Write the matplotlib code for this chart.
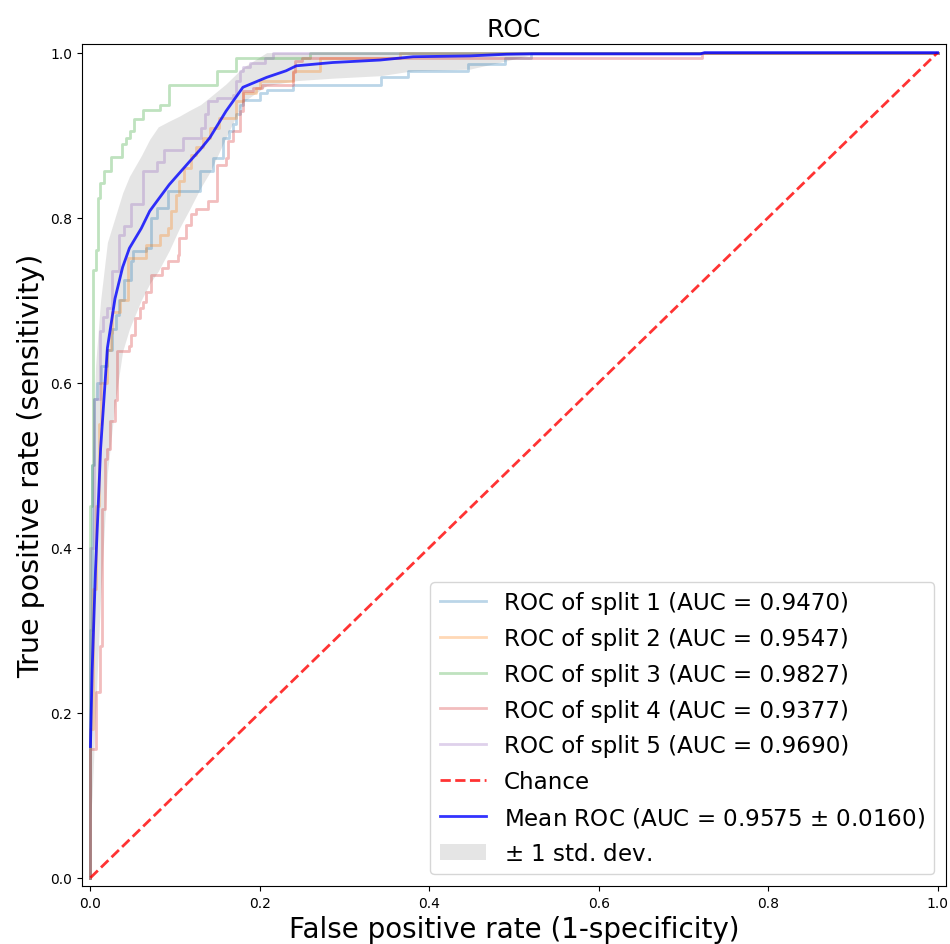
import matplotlib
matplotlib.use("Agg")
import matplotlib.pyplot as plt

# per-split ROC points (fpr, tpr)
fpr1 = [0, 0, 0.002, 0.004, 0.008, 0.012, 0.020, 0.026, 0.030, 0.034, 0.040, 0.048, 0.050, 0.066, 0.072, 0.078,
        0.091, 0.129, 0.145, 0.156, 0.164, 0.168, 0.172, 0.176, 0.180, 0.200, 0.208, 0.239, 0.343, 0.375, 0.446,
        0.489, 0.520, 1.0]
tpr1 = [0, 0.30, 0.50, 0.58, 0.60, 0.62, 0.64, 0.665, 0.682, 0.70, 0.725, 0.747, 0.759, 0.763, 0.800, 0.812,
        0.832, 0.856, 0.872, 0.897, 0.905, 0.913, 0.925, 0.937, 0.943, 0.951, 0.955, 0.961, 0.970, 0.978, 0.986,
        0.994, 1.0, 1.0]

fpr2 = [0, 0, 0.003, 0.006, 0.010, 0.013, 0.020, 0.024, 0.026, 0.035, 0.044, 0.066, 0.082, 0.091, 0.095, 0.101,
        0.105, 0.111, 0.119, 0.125, 0.133, 0.141, 0.152, 0.172, 0.180, 0.196, 0.200, 0.239, 0.271, 0.365, 1.0]
tpr2 = [0, 0.18, 0.35, 0.45, 0.55, 0.60, 0.64, 0.66, 0.686, 0.70, 0.751, 0.767, 0.779, 0.787, 0.808, 0.828,
        0.844, 0.860, 0.876, 0.885, 0.897, 0.909, 0.921, 0.941, 0.951, 0.957, 0.966, 0.978, 0.993, 1.0, 1.0]

fpr3 = [0, 0, 0.002, 0.003, 0.006, 0.0087, 0.0114, 0.0154, 0.0244, 0.0374, 0.042, 0.047, 0.051, 0.062, 0.082,
        0.093, 0.149, 0.172, 0.259, 1.0]
tpr3 = [0, 0.45, 0.50, 0.737, 0.761, 0.824, 0.842, 0.856, 0.873, 0.889, 0.897, 0.905, 0.919, 0.930, 0.937,
        0.961, 0.978, 0.993, 1.0, 1.0]

fpr4 = [0, 0, 0.007, 0.011, 0.014, 0.017, 0.020, 0.023, 0.029, 0.031, 0.045, 0.048, 0.052, 0.058, 0.062, 0.066,
        0.072, 0.084, 0.091, 0.103, 0.105, 0.113, 0.119, 0.125, 0.139, 0.149, 0.160, 0.162, 0.168, 0.176, 0.180,
        0.192, 0.202, 0.239, 0.241, 0.250, 0.722, 1.0]
tpr4 = [0, 0.156, 0.225, 0.281, 0.447, 0.508, 0.520, 0.554, 0.579, 0.638, 0.645, 0.658, 0.678, 0.690, 0.698, 0.710,
        0.731, 0.739, 0.747, 0.755, 0.775, 0.791, 0.804, 0.810, 0.820, 0.864, 0.872, 0.893, 0.905, 0.929, 0.953,
        0.957, 0.961, 0.977, 0.990, 0.994, 1.0, 1.0]

fpr5 = [0, 0, 0.004, 0.011, 0.015, 0.020, 0.026, 0.034, 0.040, 0.048, 0.062, 0.078, 0.087, 0.109, 0.131, 0.135,
        0.139, 0.149, 0.168, 0.172, 0.176, 0.180, 0.188, 0.206, 0.216, 1.0]
tpr5 = [0, 0.40, 0.58, 0.662, 0.68, 0.69, 0.735, 0.779, 0.79, 0.816, 0.856, 0.868, 0.882, 0.897, 0.909, 0.925,
        0.941, 0.945, 0.949, 0.966, 0.978, 0.982, 0.988, 0.994, 1.0, 1.0]

aucs = [0.9470, 0.9547, 0.9827, 0.9377, 0.9690]
mean_auc = 0.9575
std_auc = 0.0160

# mean curve and +-1 std band
mean_fpr = [0, 0.002, 0.006, 0.012, 0.020, 0.029, 0.038, 0.046, 0.060, 0.070, 0.080, 0.093, 0.105, 0.117, 0.130,
            0.141, 0.160, 0.180, 0.208, 0.231, 0.243, 0.286, 0.342, 0.381, 0.448, 0.491, 0.519, 0.720, 0.725, 1.0]
mean_tpr = [0.159, 0.25, 0.374, 0.52, 0.642, 0.702, 0.74, 0.763, 0.787, 0.808, 0.822, 0.840, 0.854, 0.868, 0.883,
            0.897, 0.929, 0.958, 0.970, 0.978, 0.984, 0.988, 0.991, 0.995, 0.996, 0.998, 0.9985, 0.9985, 1.0, 1.0]
tpr_upper = [0.25, 0.48, 0.62, 0.70, 0.77, 0.80, 0.83, 0.85, 0.875, 0.895, 0.910, 0.917, 0.923, 0.930, 0.937,
             0.946, 0.962, 0.982, 1.0, 1.0, 1.0, 1.0, 1.0, 1.0, 1.0, 1.0, 1.0, 1.0, 1.0, 1.0]
tpr_lower = [0.07, 0.10, 0.20, 0.34, 0.49, 0.575, 0.638, 0.665, 0.700, 0.720, 0.735, 0.760, 0.787, 0.810, 0.836,
             0.855, 0.897, 0.94, 0.960, 0.964, 0.966, 0.969, 0.972, 0.978, 0.98, 0.99, 0.997, 0.997, 1.0, 1.0]

splits = [(fpr1, tpr1), (fpr2, tpr2), (fpr3, tpr3), (fpr4, tpr4), (fpr5, tpr5)]

fig = plt.figure(figsize=(9.5, 9.45), dpi=100)
ax = fig.add_axes([0.0863, 0.0614, 0.9095, 0.8906])

for i, (f, t) in enumerate(splits):
    ax.plot(f, t, lw=2, alpha=0.3, color='C%d' % i, drawstyle='steps-post',
            label='ROC of split %d (AUC = %0.4f)' % (i + 1, aucs[i]))

ax.plot([0, 1], [0, 1], linestyle='--', lw=2, color='r', alpha=.8, label='Chance')
ax.plot(mean_fpr, mean_tpr, color='b', lw=2, alpha=.8,
        label='Mean ROC (AUC = %0.4f $\\pm$ %0.4f)' % (mean_auc, std_auc))
ax.fill_between(mean_fpr, tpr_lower, tpr_upper, color='grey', alpha=.2, lw=0,
                label='$\\pm$ 1 std. dev.')

ax.set_xlim(-0.01, 1.01)
ax.set_ylim(-0.01, 1.01)
ax.tick_params(labelsize=10)
ax.set_xlabel('False positive rate (1-specificity)', fontsize=20)
ax.set_ylabel('True positive rate (sensitivity)', fontsize=20.5)
ax.set_title('ROC', fontsize=18)
ax.legend(loc='lower right', fontsize=16.6, labelspacing=0.55)

fig.savefig('out.png', dpi=100)
